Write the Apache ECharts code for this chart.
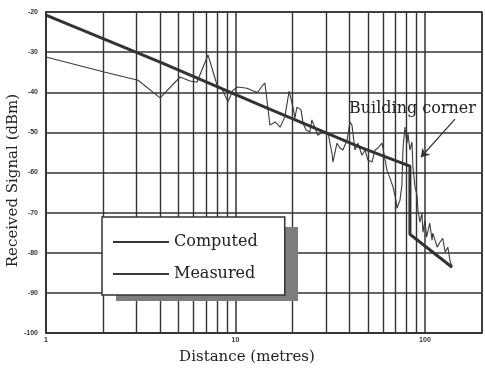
<!DOCTYPE html>
<html>
<head>
<meta charset="utf-8">
<script src="https://cdn.jsdelivr.net/npm/echarts@6/dist/echarts.min.js"></script>
<style>
  html, body { margin: 0; padding: 0; background: #fff; }
  #chart { width: 485px; height: 373px; }
</style>
</head>
<body>
<div id="chart"></div>
<script>
// computed path-loss prediction (drops at the building corner)
let compDist = [1, 4.0, 13.5, 45.4, 83.3, 83.3, 139];
let compVal = [-20.8, -32.5, -43.2, -53.7, -58.4, -75.4, -83.6];

// measured signal
let measDist = [1, 2.05, 3.06, 4.00, 5.10, 5.75, 6.26, 7.16, 7.99, 8.49,
  9.13, 9.70, 10.3, 11.5, 12.4, 13.1, 13.8, 14.3, 15.2, 16.2,
  17.2, 18.2, 19.2, 20.1, 20.6, 21.1, 22.2, 22.7, 23.6, 24.7,
  25.3, 26.3, 27.2, 28.9, 30.8, 32.3, 32.7, 34.3, 35.6, 36.9,
  38.8, 40.2, 41.2, 42.7, 44.3, 46.5, 48.3, 50.0, 52.5, 54.5,
  56.5, 59.3, 60.0, 63.0, 65.4, 67.8, 70.3, 71.2, 73.8, 75.6,
  76.5, 78.4, 80.4, 81.3, 83.3, 85.4, 86.4, 88.6, 90.7, 91.9,
  94.1, 96.4, 97.6, 100, 102, 106, 109, 110, 116, 120,
  124, 128, 132, 136, 139];
let measVal = [-31.2, -35.0, -37.0, -41.4, -36.2, -37.2, -37.5, -30.7, -38.2, -39.2,
  -42.4, -39.5, -38.7, -39.0, -39.7, -40.0, -38.5, -37.7, -48.2, -47.4,
  -48.7, -46.2, -39.7, -43.7, -46.4, -43.7, -44.4, -47.7, -49.4, -49.9,
  -46.9, -48.9, -50.7, -49.9, -50.2, -55.2, -57.4, -52.7, -53.9, -54.4,
  -51.9, -47.4, -48.2, -54.4, -52.7, -55.7, -54.4, -56.9, -57.4, -54.4,
  -53.9, -52.7, -53.9, -59.4, -61.4, -63.6, -66.9, -68.9, -66.9, -63.1,
  -54.4, -48.7, -52.7, -50.2, -54.4, -52.4, -58.7, -63.6, -65.6, -69.4,
  -72.4, -70.1, -74.9, -71.9, -76.1, -72.6, -76.9, -75.1, -78.6, -77.4,
  -76.4, -79.9, -78.6, -82.3, -83.3];

// log grid lines between the decades
let minorX = [2, 3, 4, 5, 6, 7, 8, 9, 20, 30, 40, 50, 60, 70, 80, 90];

// arrow for the "Building corner" note
let arrowFrom = [144, -46.7];
let arrowTo = [95.2, -56.2];

const ink = '#333';
const serif = 'DejaVu Serif';

// legend box placement
const legLeft = 102, legTop = 217, legW = 182, legH = 74;

function pairs(xs, ys) {
  return xs.map((x, i) => [x, ys[i]]);
}

let option = {
  backgroundColor: '#fff',
  animation: false,
  grid: {
    left: 46,
    right: 3,
    top: 12,
    bottom: 40,
    outerBoundsMode: 'none',
    show: true,
    borderColor: ink,
    borderWidth: 1.5
  },
  legend: {
    data: ['Computed', 'Measured'],
    orient: 'vertical',
    left: legLeft,
    top: legTop,
    zlevel: 1,
    z: 20,
    padding: [17, 27, 13, 10],
    itemWidth: 56,
    itemHeight: 14,
    itemGap: 16,
    backgroundColor: '#fff',
    borderColor: ink,
    borderWidth: 1.5,
    itemStyle: { opacity: 0 },
    textStyle: { fontFamily: serif, fontSize: 16, color: '#222' }
  },
  xAxis: {
    type: 'log',
    logBase: 10,
    min: 1,
    max: 200,
    name: 'Distance (metres)',
    nameLocation: 'middle',
    nameGap: 17,
    nameTextStyle: { fontFamily: serif, fontSize: 15, color: '#222', padding: [0, 34, 0, 0] },
    axisLine: { show: true, lineStyle: { color: ink, width: 1.5 } },
    axisTick: { show: false },
    axisLabel: {
      margin: 4,
      fontSize: 7,
      fontWeight: 'bold',
      color: ink,
      showMaxLabel: false
    },
    splitLine: { show: true, lineStyle: { color: ink, width: 1.5 } }
  },
  yAxis: {
    type: 'value',
    min: -100,
    max: -20,
    interval: 10,
    name: 'Received Signal (dBm)',
    nameLocation: 'middle',
    nameRotate: 90,
    nameGap: 25,
    nameMoveOverlap: false,
    nameTextStyle: { fontFamily: serif, fontSize: 15, color: '#222', padding: [0, 16, 0, 0] },
    axisLine: { show: true, lineStyle: { color: ink, width: 1.5 } },
    axisTick: { show: false },
    axisLabel: { margin: 8, fontSize: 7, fontWeight: 'bold', color: ink },
    splitLine: { show: true, lineStyle: { color: ink, width: 1.5 } }
  },
  graphic: [
    {
      // stippled drop shadow behind the legend box
      type: 'rect',
      zlevel: 1,
      z: 15,
      shape: { x: legLeft + 14, y: legTop + 10, width: legW, height: legH },
      style: { fill: '#7d7d7d' }
    },
    {
      type: 'text',
      left: 349,
      top: 101,
      z: 15,
      style: { text: 'Building corner', fontFamily: serif, fontSize: 16, fill: '#222' }
    }
  ],
  series: [
    {
      name: 'Computed',
      type: 'line',
      data: pairs(compDist, compVal),
      symbol: 'none',
      z: 3,
      lineStyle: { color: '#333', width: 3 },
      itemStyle: { color: '#333' },
      markLine: {
        silent: true,
        symbol: ['none', 'arrow'],
        symbolSize: 8,
        label: { show: false },
        lineStyle: { color: ink, width: 1.2, type: 'solid' },
        data: [[{ coord: arrowFrom }, { coord: arrowTo }]]
      }
    },
    {
      name: 'Measured',
      type: 'line',
      data: pairs(measDist, measVal),
      symbol: 'none',
      z: 2,
      lineStyle: { color: '#3a3a3a', width: 1.1 },
      itemStyle: { color: '#3a3a3a' },
      markLine: {
        silent: true,
        z: 1,
        symbol: 'none',
        label: { show: false },
        lineStyle: { color: ink, width: 1.4, type: 'solid' },
        data: minorX.map(v => ({ xAxis: v }))
      }
    }
  ]
};

let myChart = echarts.init(document.getElementById('chart'));
myChart.setOption(option);
</script>
</body>
</html>
